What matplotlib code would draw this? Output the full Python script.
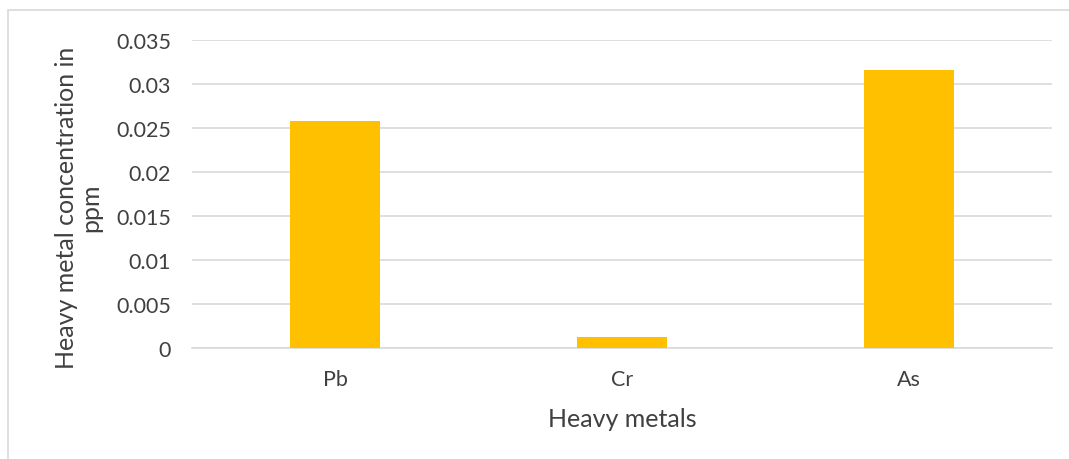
import matplotlib.pyplot as plt
from matplotlib.patches import Rectangle

# data
metals = ['Pb', 'Cr', 'As']
conc = [0.0258, 0.00125, 0.0316]
yticks = [0, 0.005, 0.01, 0.015, 0.02, 0.025, 0.03, 0.035]
ytick_labels = ['0', '0.005', '0.01', '0.015', '0.02', '0.025', '0.03', '0.035']

plt.rcParams['font.family'] = ['Lato', 'DejaVu Sans']

W, H = 1069, 460
fig = plt.figure(figsize=(W / 100, H / 100), dpi=100)

# outer chart frame (light grey, cut off at right and bottom)
fig.patches.append(Rectangle((8 / W, -0.05), 1.1, (H - 11) / H + 0.05,
                             transform=fig.transFigure, fill=False,
                             edgecolor='#d9d9d9', linewidth=1.2))

ax = fig.add_axes([192 / W, 1 - 349 / H, (1052 - 192) / W, (349 - 41) / H])
x = range(len(metals))
ax.bar(x, conc, width=0.315, color='#FFC000', zorder=3)

ax.set_xlim(-0.5, 2.5)
ax.set_ylim(0, 0.035)
ax.set_yticks(yticks)
ax.set_yticklabels(ytick_labels)
ax.set_xticks(list(x))
ax.set_xticklabels(metals)
ax.grid(axis='y', color='#d9d9d9', linewidth=1.2, zorder=0)
for s in ['top', 'right', 'left']:
    ax.spines[s].set_visible(False)
ax.spines['bottom'].set_color('#d9d9d9')
ax.spines['bottom'].set_linewidth(1.2)
ax.tick_params(axis='both', length=0, labelsize=15.5, colors='#404040')
ax.tick_params(axis='y', pad=15)
ax.tick_params(axis='x', pad=15)

ax.set_xlabel('Heavy metals', fontsize=18, color='#404040')
ax.xaxis.set_label_coords(0.5, -0.19)
ax.set_ylabel('Heavy metal concentration in\nppm', fontsize=18, color='#404040',
              linespacing=1.1)
ax.yaxis.set_label_coords(-0.104, 0.458)

fig.savefig('out.png', dpi=100)
